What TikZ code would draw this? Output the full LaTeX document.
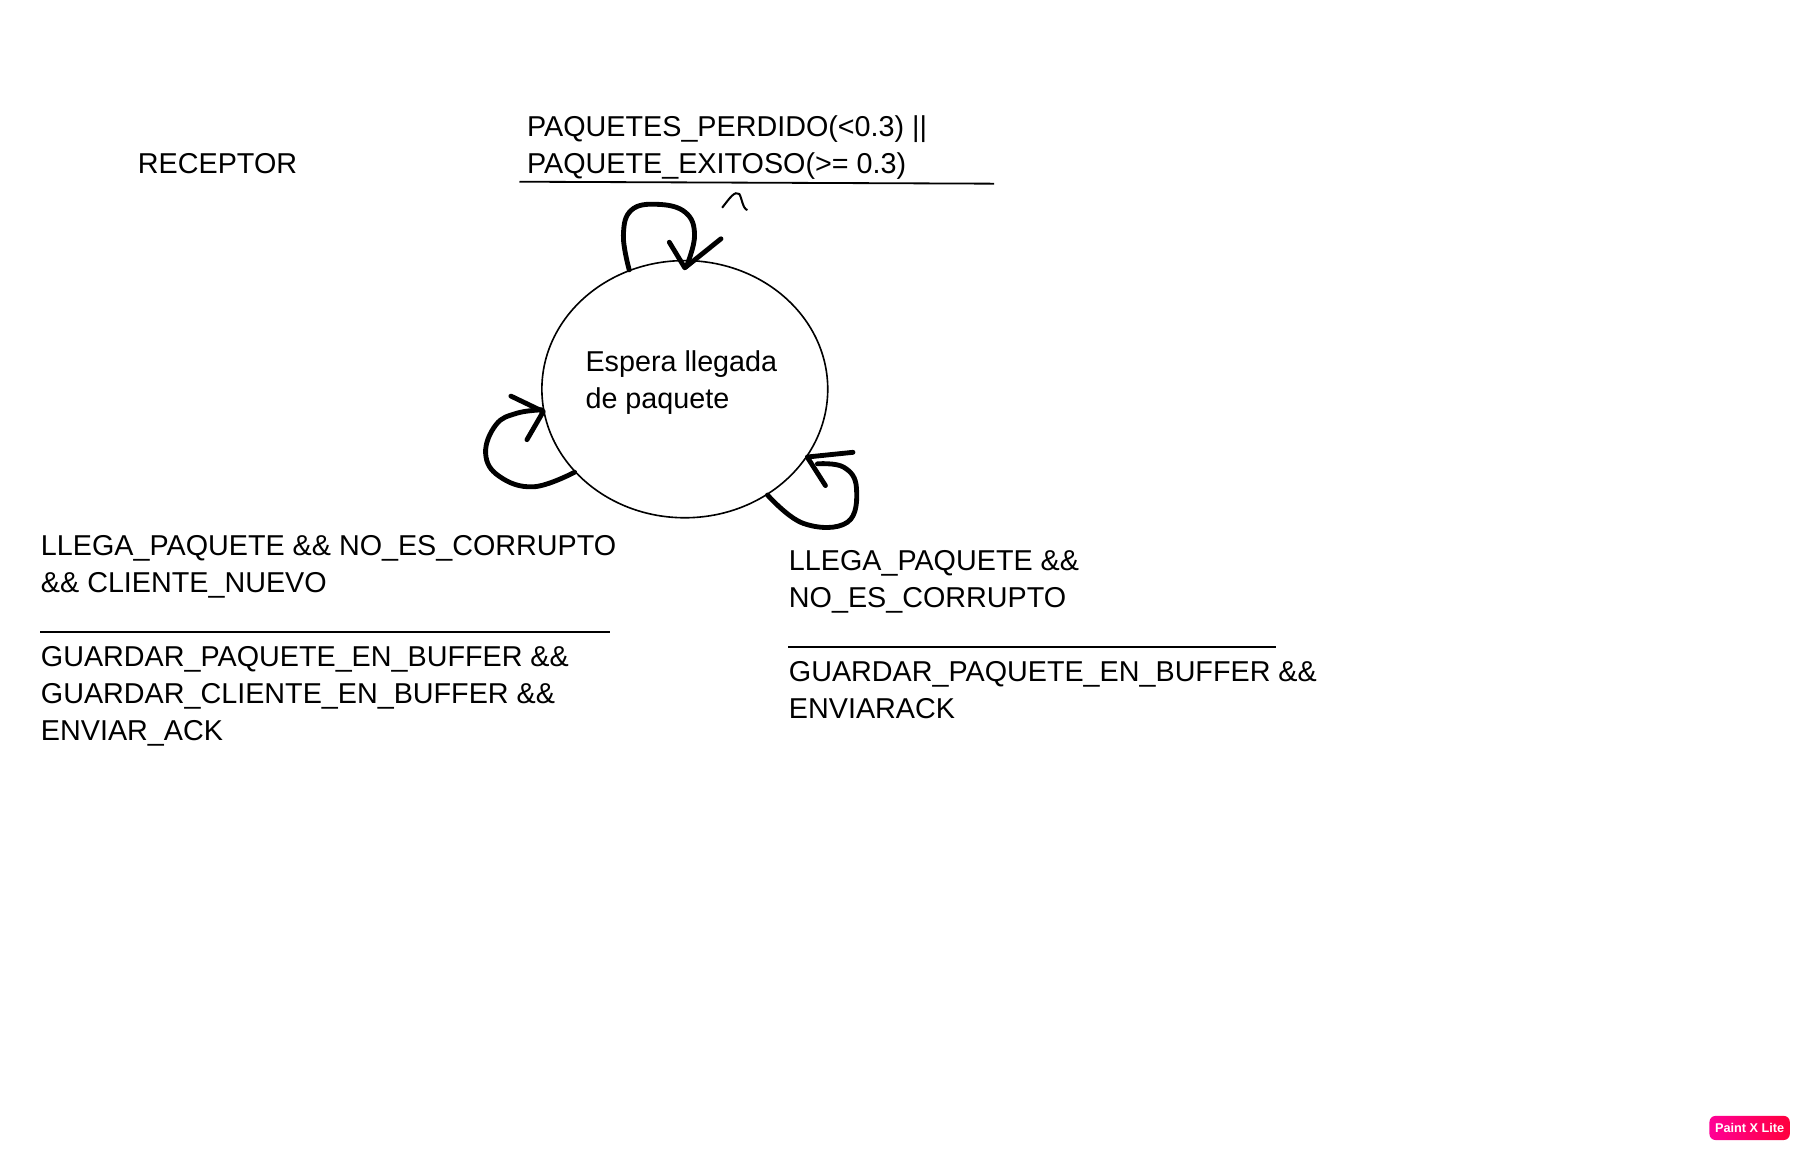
\documentclass[tikz,border=0pt]{standalone}
\usepackage{fontspec}
\setmainfont{Liberation Sans}
\usetikzlibrary{positioning}
\usetikzlibrary{shapes.geometric}

\begin{document}
\begin{tikzpicture}[
		estado/.style = {
			draw,
			ellipse,
			line width = 0.4pt,
			minimum width = 2.49cm,
			minimum height = 2.24cm,
			inner sep = 0pt,
		},
		texto/.style = {
			align = left,
			inner sep = 0pt,
			font = \fontsize{7.12}{9.15}\selectfont,
		},
		trazo/.style = {
			line width = 1.2pt,
			line cap = round,
			line join = round,
		},
		raya/.style = {
			line width = 0.45pt,
		},
		sello/.style = {
			rounded corners = 1.5pt,
			left color = sellorosa,
			right color = sellorojo,
			minimum width = 0.7cm,
			minimum height = 0.21cm,
			inner sep = 0pt,
			text = white,
			font = \fontsize{3.15}{4}\selectfont\bfseries,
		}
	]
	\definecolor{sellorosa}{RGB}{255,0,150}
	\definecolor{sellorojo}{RGB}{255,0,60}
	\useasboundingbox (0,0) rectangle (15.67,-10);

	\node [estado, label = {[texto, name = esperaTexto, xshift = -0.03cm, yshift = 0.06cm]center:{Espera llegada\\de paquete}}] (espera) at (5.965,-3.39) {};

	\node [texto, above left = 0.69 and 1.38 of espera.north, anchor = south west] (perdido) {PAQUETES\_PERDIDO(<0.3) ||\\PAQUETE\_EXITOSO(>= 0.3)};
	\node [texto, below left = 0.14 and 3.39 of perdido.west, anchor = west] (receptor) {RECEPTOR};

	\node [texto, below left = 0.14 and 5.615 of espera.south, anchor = north west] (llegaIzq) {LLEGA\_PAQUETE \&\& NO\_ES\_CORRUPTO\\\&\& CLIENTE\_NUEVO};
	\node [texto, below = 0.41 of llegaIzq.south west, anchor = north west] (guardaIzq) {GUARDAR\_PAQUETE\_EN\_BUFFER \&\&\\GUARDAR\_CLIENTE\_EN\_BUFFER \&\&\\ENVIAR\_ACK};

	\node [texto, below right = 0.27 and 0.9 of espera.south, anchor = north west] (llegaDer) {LLEGA\_PAQUETE \&\&\\NO\_ES\_CORRUPTO};
	\node [texto, below = 0.41 of llegaDer.south west, anchor = north west] (guardaDer) {GUARDAR\_PAQUETE\_EN\_BUFFER \&\&\\ENVIARACK};

	\node [sello] (paint) at (15.24,-9.825) {Paint X Lite};

	% rayas de las transiciones
	\coordinate [below left = 0.01 and 0.06 of perdido.south west] (rayaSupA);
	\coordinate (rayaSupB) at (8.66,-1.6);
	\coordinate [above = 0.12 of guardaIzq.north west] (rayaIzqA);
	\coordinate [right = 4.96 of rayaIzqA] (rayaIzqB);
	\coordinate [above = 0.12 of guardaDer.north west] (rayaDerA);
	\coordinate [right = 4.25 of rayaDerA] (rayaDerB);
	\draw [raya] (rayaSupA) to (rayaSupB);
	\draw [raya] (rayaIzqA) to (rayaIzqB);
	\draw [raya] (rayaDerA) to (rayaDerB);

	% bucles
	\draw [trazo] plot [smooth, tension = 0.7] coordinates {(espera.115) (5.43,-2.05) (5.5,-1.83) (5.73,-1.78) (5.97,-1.85) (6.05,-2.05) (5.98,-2.32)};
	\draw [trazo] (5.83,-2.11) to ([yshift = -0.07cm]espera.north) to (6.28,-2.08);

	\draw [trazo] plot [smooth, tension = 0.7] coordinates {(espera.217) (4.65,-4.24) (4.35,-4.15) (4.23,-3.95) (4.32,-3.7) (4.5,-3.6) (4.72,-3.57)};
	\draw [trazo] (4.45,-3.45) to (espera.189) to (4.59,-3.83);

	\draw [trazo] plot [smooth, tension = 0.7] coordinates {(espera.-52) (7.0,-4.56) (7.38,-4.55) (7.46,-4.25) (7.35,-4.07) (7.12,-4.04)};
	\draw [trazo] (7.43,-3.94) to (espera.-29) to (7.19,-4.23);

	% marca suelta
	\coordinate (marcaA) at (6.29,-1.81);
	\coordinate (marcaB) at (6.51,-1.83);
	\draw [line width = 0.5pt] (marcaA) .. controls (6.36,-1.72) and (6.4,-1.66) .. (6.44,-1.69) .. controls (6.46,-1.72) and (6.47,-1.82) .. (marcaB);
\end{tikzpicture}
\end{document}
